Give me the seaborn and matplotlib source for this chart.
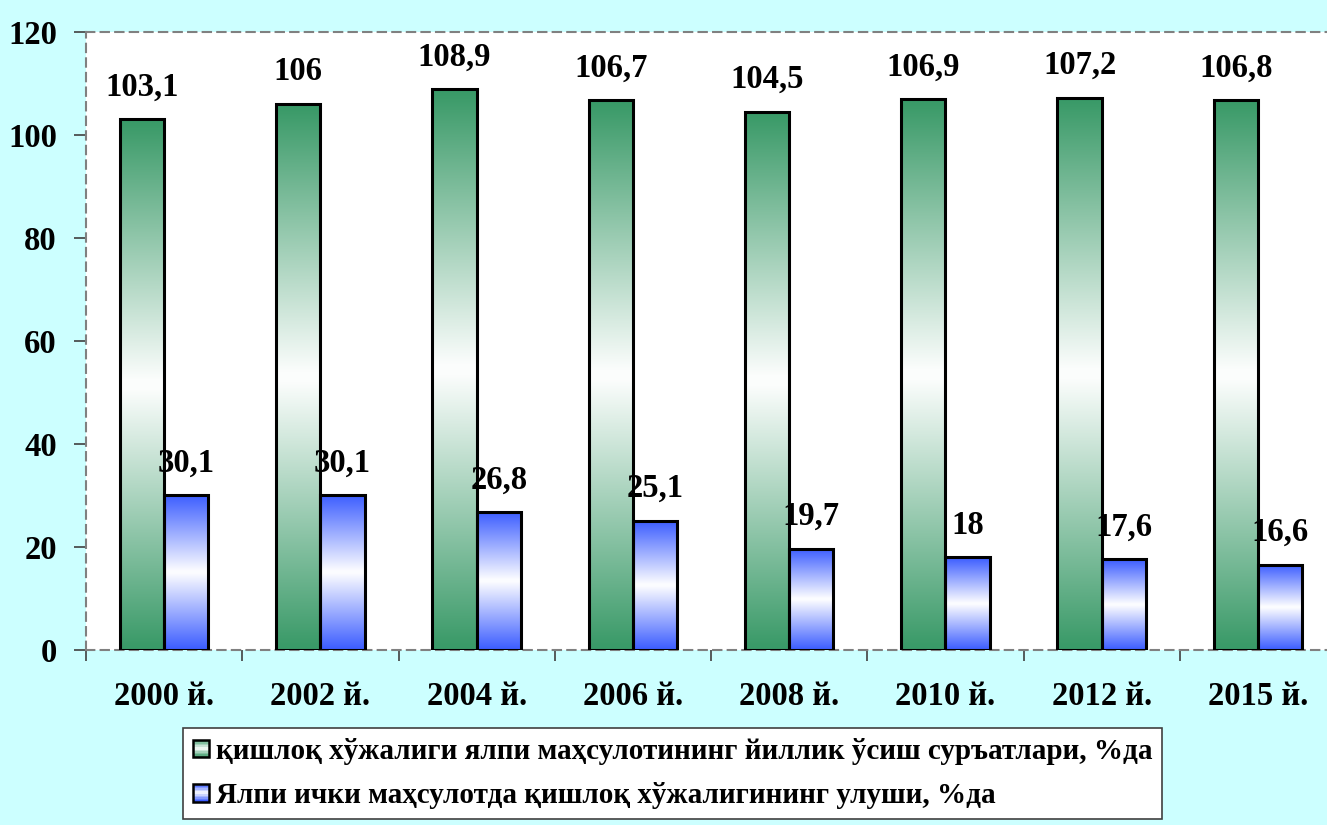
import numpy as np
import pandas as pd
import seaborn as sns
import matplotlib
matplotlib.use('Agg')
import matplotlib.pyplot as plt
from matplotlib.colors import to_rgb
from matplotlib.patches import Rectangle, Patch
from matplotlib.legend_handler import HandlerBase

# Data
years = ['2000 й.', '2002 й.', '2004 й.', '2006 й.', '2008 й.', '2010 й.', '2012 й.', '2015 й.']
growth = [103.1, 106, 108.9, 106.7, 104.5, 106.9, 107.2, 106.8]
share = [30.1, 30.1, 26.8, 25.1, 19.7, 18, 17.6, 16.6]
series_names = ['қишлоқ хўжалиги ялпи маҳсулотининг йиллик ўсиш суръатлари, %да',
                'Ялпи ички маҳсулотда қишлоқ хўжалигининг улуши, %да']
colors = ['#3A9A68', '#3D5EFF']

df = pd.DataFrame({
    'year': years * 2,
    'value': growth + share,
    'series': [series_names[0]] * len(years) + [series_names[1]] * len(years),
})

sns.set_style('white')
plt.rcParams['font.family'] = ['Liberation Serif', 'DejaVu Serif']
plt.rcParams['font.weight'] = 'bold'
plt.rcParams['text.color'] = 'black'
plt.rcParams['xtick.color'] = 'black'
plt.rcParams['ytick.color'] = 'black'


def grad_colors(color, n=64):
    # color at the ends, white in the middle
    c = np.array(to_rgb(color))
    t = np.abs(np.linspace(-1, 1, n))[:, None]
    return 1 - (1 - c) * t


class GradHandler(HandlerBase):
    def __init__(self, color):
        super().__init__()
        self.color = color

    def create_artists(self, legend, orig_handle, xdescent, ydescent, width, height, fontsize, trans):
        n = 12
        cols = grad_colors(self.color, n)
        arts = []
        for i in range(n):
            arts.append(Rectangle((-xdescent, -ydescent + i * height / n), width, height / n,
                                  facecolor=cols[i], edgecolor='none', transform=trans))
        arts.append(Rectangle((-xdescent, -ydescent), width, height, facecolor='none',
                              edgecolor='black', lw=1.8, transform=trans))
        return arts


fig = plt.figure(figsize=(13.27, 8.25), dpi=100, facecolor='#CCFFFF')
ax = fig.add_axes([86 / 1327, 175 / 825, 1250 / 1327, 618 / 825])
ax.set_facecolor('white')

sns.barplot(data=df, x='year', y='value', hue='series', hue_order=series_names,
            palette=colors, width=0.565, dodge=True, edgecolor='black', linewidth=2.2,
            saturation=1, legend=False, ax=ax)

ax.set_xlim(-0.5, 7.5)
ax.set_ylim(0, 120)

# gradient fill inside each bar
for cont, col in zip(ax.containers, colors):
    img = grad_colors(col)[:, None, :]
    for p in cont.patches:
        x0, w, h = p.get_x(), p.get_width(), p.get_height()
        im = ax.imshow(img, extent=(x0, x0 + w, 0, h), aspect='auto', zorder=2,
                       interpolation='bilinear', origin='lower')
        im.set_clip_path(p)
        p.set_facecolor('none')
        p.set_zorder(3)

for cont, vals in zip(ax.containers, [growth, share]):
    labels = [f'{v:g}'.replace('.', ',') for v in vals]
    ax.bar_label(cont, labels=labels, padding=12, fontsize=23.5, fontweight='bold',
                 color='black', zorder=4)

ax.set_xlabel('')
ax.set_ylabel('')
ax.set_yticks(np.arange(0, 121, 20))
ax.set_xticks(np.arange(-0.5, 8, 1))
ax.set_xticklabels([])
ax.set_xticks(np.arange(len(years)), minor=True)
ax.set_xticklabels(years, minor=True, fontsize=23.5, fontweight='bold')
ax.tick_params(axis='x', which='major', bottom=True, direction='out', length=8, width=1.2, color='#404040')
ax.tick_params(axis='x', which='minor', bottom=True, length=0, pad=22, labelcolor='black')
ax.tick_params(axis='y', left=True, direction='out', length=9, width=1.2, color='#404040', pad=12,
               labelsize=23.5, labelcolor='black')
for lab in ax.get_yticklabels():
    lab.set_fontweight('bold')

for s in ax.spines.values():
    s.set_linestyle((0, (4, 3)))
    s.set_color('#808080')
    s.set_linewidth(1.5)
    s.set_zorder(1)

h1, h2 = Patch(), Patch()
leg = fig.legend([h1, h2], series_names, loc='upper left', bbox_to_anchor=(183 / 1327, 97 / 825),
                 bbox_transform=fig.transFigure, borderaxespad=0, fancybox=False, frameon=True,
                 edgecolor='#404040', facecolor='white', framealpha=1,
                 prop={'size': 21, 'weight': 'bold'}, handlelength=0.55, handleheight=0.55,
                 handletextpad=0.25, labelspacing=0.6, borderpad=0.33,
                 handler_map={h1: GradHandler(colors[0]), h2: GradHandler(colors[1])})
leg.get_frame().set_linewidth(1.2)
for t in leg.get_texts():
    t.set_color('black')

fig.savefig('out.png', dpi=100, facecolor=fig.get_facecolor())
